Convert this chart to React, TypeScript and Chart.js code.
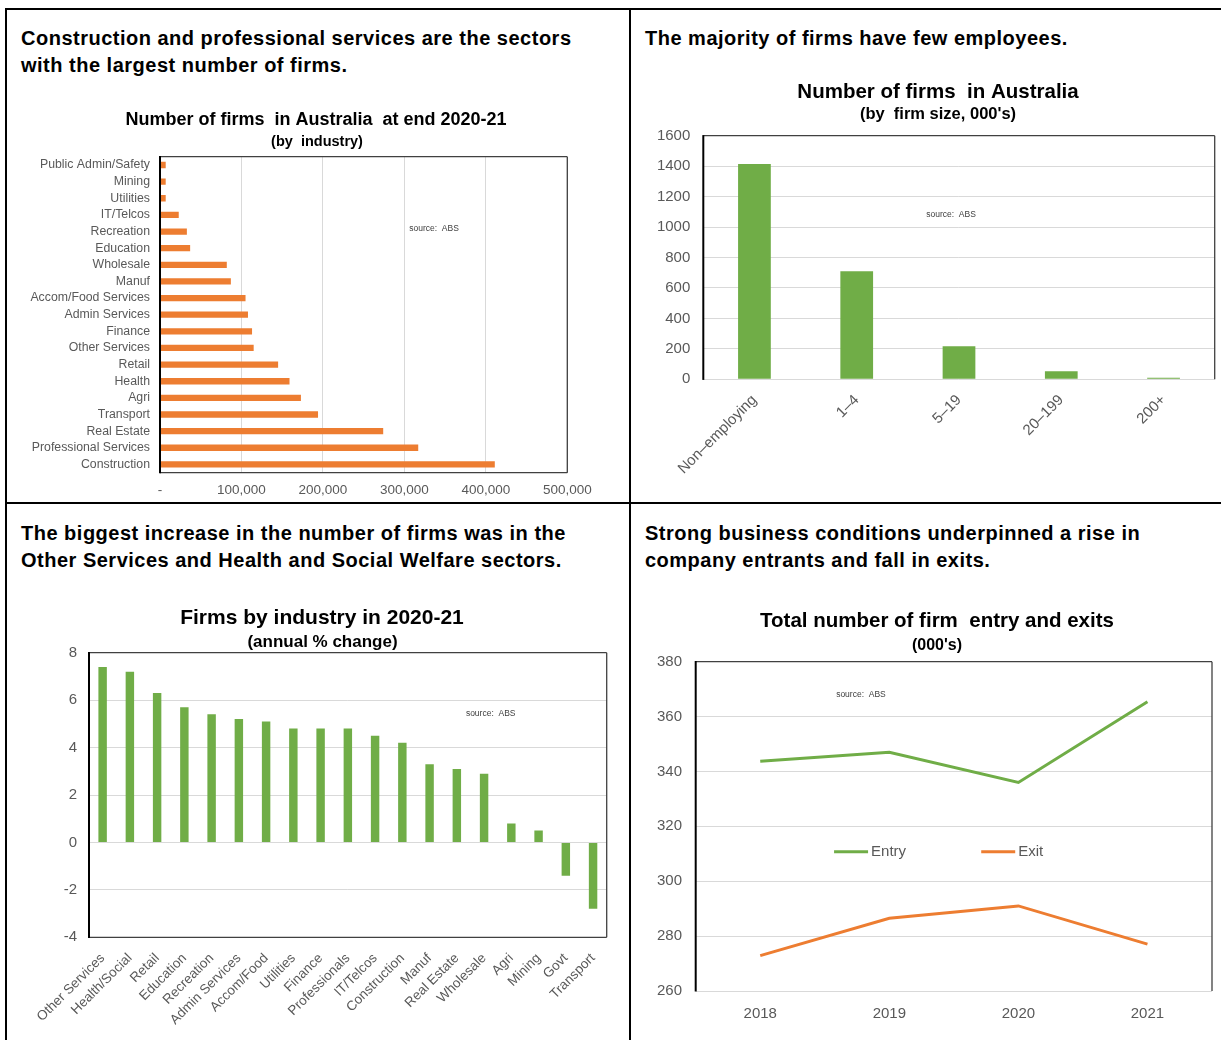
import React, { useEffect, useRef } from "react";
import { Chart, registerables } from "chart.js";

Chart.register(...registerables);

const SANS = '"Liberation Sans", Arial, Helvetica, sans-serif';

const ORANGE = "#ED7D31";
const GREEN = "#70AD47";
const TICK_GREY = "#595959";
const GRID_GREY = "#d9d9d9";
const FRAME_DARK = "#404040";

// Number of firms by industry, end 2020-21
const industryNames = [
  "Public Admin/Safety", "Mining", "Utilities", "IT/Telcos", "Recreation", "Education",
  "Wholesale", "Manuf", "Accom/Food Services", "Admin Services", "Finance", "Other Services",
  "Retail", "Health", "Agri", "Transport", "Real Estate", "Professional Services", "Construction",
];
const industryFirms = [
  7000, 7000, 7000, 23000, 33000, 37000, 82000, 87000, 105000, 108000, 113000, 115000,
  145000, 159000, 173000, 194000, 274000, 317000, 411000,
];
const industryTickLabels = ["-", "100,000", "200,000", "300,000", "400,000", "500,000"];

// Number of firms by firm size (000's)
const sizeBands = ["Non\u2013employing", "1\u20134", "5\u201319", "20\u2013199", "200+"];
const sizeFirms = [1414, 709, 217, 53, 10];

// Annual % change in firms by industry, 2020-21
const changeIndustries = [
  "Other Services", "Health/Social", "Retail", "Education", "Recreation", "Admin Services",
  "Accom/Food", "Utilities", "Finance", "Professionals", "IT/Telcos", "Construction", "Manuf",
  "Real Estate", "Wholesale", "Agri", "Mining", "Govt", "Transport",
];
const changePct = [7.4, 7.2, 6.3, 5.7, 5.4, 5.2, 5.1, 4.8, 4.8, 4.8, 4.5, 4.2, 3.3, 3.1, 2.9, 0.8, 0.5, -1.4, -2.8];

// Firm entries and exits (000's)
const flowYears = ["2018", "2019", "2020", "2021"];
const entryFirms = [343.7, 347.0, 336.0, 365.4];
const exitFirms = [272.9, 286.5, 291.0, 277.1];

const sourceText = "source:  ABS";

type Rect = { left: number; top: number; width: number; height: number };
type Area = { left: number; top: number; right: number; bottom: number };
type Heading = { text: string; size: number; cx: number; cy: number };

// Paddings that put the plot area at a fixed place inside its canvas.
function geometry(canvas: Rect, area: Area, xAxisHeight: number) {
  return {
    layout: {
      padding: {
        left: 0,
        right: canvas.left + canvas.width - area.right,
        top: area.top - canvas.top,
        bottom: canvas.top + canvas.height - area.bottom - xAxisHeight,
      },
    },
    yWidth: area.left - canvas.left,
    xHeight: xAxisHeight,
  };
}

// Title and subtitle, each centred on its own point (page coordinates, shifted by the canvas origin).
const chartHeadings = {
  id: "chartHeadings",
  afterDraw(chart: any, _args: any, opts: any) {
    const { ctx } = chart;
    ctx.save();
    ctx.fillStyle = "#000";
    ctx.textAlign = "center";
    ctx.textBaseline = "middle";
    (opts.lines as Heading[]).forEach((h) => {
      ctx.font = `bold ${h.size}px ${SANS}`;
      ctx.fillText(h.text, h.cx - opts.origin.left, h.cy - opts.origin.top);
    });
    ctx.restore();
  },
};

// Small "source" note placed inside the plot area.
const sourceNote = {
  id: "sourceNote",
  afterDraw(chart: any, _args: any, opts: any) {
    const { ctx, chartArea: a } = chart;
    ctx.save();
    ctx.font = `8.5px ${SANS}`;
    ctx.fillStyle = "#404040";
    ctx.textAlign = "left";
    ctx.textBaseline = "middle";
    ctx.fillText(sourceText, a.left + opts.fx * (a.right - a.left), a.top + opts.fy * (a.bottom - a.top));
    ctx.restore();
  },
};

// Box around the plot area with a heavier left axis.
const plotFrame = {
  id: "plotFrame",
  afterDatasetsDraw(chart: any, _args: any, opts: any) {
    const { ctx, chartArea: a } = chart;
    const seg = (x1: number, y1: number, x2: number, y2: number, color: string | null, w: number) => {
      if (!color) return;
      ctx.beginPath();
      ctx.strokeStyle = color;
      ctx.lineWidth = w;
      ctx.moveTo(x1, y1);
      ctx.lineTo(x2, y2);
      ctx.stroke();
    };
    ctx.save();
    seg(a.left, a.top, a.right, a.top, opts.top, 1.3);
    seg(a.right, a.top, a.right, a.bottom, opts.right, 1.3);
    seg(a.left, a.bottom, a.right, a.bottom, opts.bottom, 1.3);
    seg(a.left, a.top - 0.6, a.left, a.bottom + 0.6, opts.left, 2);
    ctx.restore();
  },
};

// Legend drawn inside the plot, on a given y value.
const inlineLegend = {
  id: "inlineLegend",
  afterDraw(chart: any, _args: any, opts: any) {
    const { ctx, chartArea: a, scales } = chart;
    const y = scales.y.getPixelForValue(opts.value);
    ctx.save();
    ctx.font = `15px ${SANS}`;
    ctx.textAlign = "left";
    ctx.textBaseline = "middle";
    chart.data.datasets.forEach((ds: any, i: number) => {
      const x0 = a.left + opts.fx[i] * (a.right - a.left);
      ctx.beginPath();
      ctx.strokeStyle = ds.borderColor;
      ctx.lineWidth = 3;
      ctx.moveTo(x0, y);
      ctx.lineTo(x0 + opts.swatch, y);
      ctx.stroke();
      ctx.fillStyle = TICK_GREY;
      ctx.fillText(ds.label, x0 + opts.swatch + 3, y);
    });
    ctx.restore();
  },
};

const base = { animation: false, responsive: false, devicePixelRatio: 1, events: [] as string[] };

const C1 = { canvas: { left: 10, top: 100, width: 610, height: 400 }, area: { left: 160, top: 156.7, right: 567.3, bottom: 472.7 } };
const C2 = { canvas: { left: 640, top: 70, width: 581, height: 420 }, area: { left: 703.3, top: 135.7, right: 1214.7, bottom: 379.3 } };
const C3 = { canvas: { left: 10, top: 595, width: 615, height: 445 }, area: { left: 89, top: 652.7, right: 606.7, bottom: 937.3 } };
const C4 = { canvas: { left: 640, top: 595, width: 581, height: 445 }, area: { left: 695.7, top: 661.7, right: 1212, bottom: 991 } };

const hidden = { legend: { display: false }, tooltip: { enabled: false } };
const plainNumber = (v: number) => String(v);

function industryChart() {
  const g = geometry(C1.canvas, C1.area, 24);
  return {
    type: "bar",
    data: {
      labels: industryNames,
      datasets: [{ data: industryFirms, backgroundColor: ORANGE, barPercentage: 0.38, categoryPercentage: 1 }],
    },
    options: {
      ...base,
      indexAxis: "y",
      layout: g.layout,
      plugins: {
        ...hidden,
        chartHeadings: {
          origin: C1.canvas,
          lines: [
            { text: "Number of firms  in Australia  at end 2020-21", size: 18, cx: 316, cy: 120 },
            { text: "(by  industry)", size: 14.5, cx: 317, cy: 142 },
          ],
        },
        sourceNote: { fx: 0.612, fy: 0.229 },
        plotFrame: { top: FRAME_DARK, right: FRAME_DARK, bottom: FRAME_DARK, left: "#000" },
      },
      scales: {
        x: {
          min: 0, max: 500000,
          ticks: {
            stepSize: 100000, padding: 9, color: TICK_GREY, font: { family: SANS, size: 13.5 },
            callback: (v: number) => industryTickLabels[Math.round(v / 100000)],
          },
          grid: { color: GRID_GREY, drawTicks: false },
          border: { display: false },
          afterFit: (s: any) => { s.height = g.xHeight; },
        },
        y: {
          ticks: { padding: 10, color: TICK_GREY, font: { family: SANS, size: 12.3 }, autoSkip: false },
          grid: { display: false, drawTicks: false },
          border: { display: false },
          afterFit: (s: any) => { s.width = g.yWidth; },
        },
      },
    },
    plugins: [chartHeadings, sourceNote, plotFrame],
  };
}

function sizeChart() {
  const g = geometry(C2.canvas, C2.area, 100);
  return {
    type: "bar",
    data: {
      labels: sizeBands,
      datasets: [{ data: sizeFirms, backgroundColor: GREEN, barPercentage: 0.32, categoryPercentage: 1 }],
    },
    options: {
      ...base,
      layout: g.layout,
      plugins: {
        ...hidden,
        chartHeadings: {
          origin: C2.canvas,
          lines: [
            { text: "Number of firms  in Australia", size: 20.5, cx: 938, cy: 92 },
            { text: "(by  firm size, 000's)", size: 16.5, cx: 938, cy: 114 },
          ],
        },
        sourceNote: { fx: 0.436, fy: 0.326 },
        plotFrame: { top: FRAME_DARK, right: FRAME_DARK, bottom: null, left: "#000" },
      },
      scales: {
        x: {
          ticks: { minRotation: 45, maxRotation: 45, padding: 4, color: TICK_GREY, font: { family: SANS, size: 15 } },
          grid: { display: false },
          border: { display: false },
          afterFit: (s: any) => { s.height = g.xHeight; },
        },
        y: {
          min: 0, max: 1600,
          ticks: { stepSize: 200, padding: 13, color: TICK_GREY, font: { family: SANS, size: 15 }, callback: plainNumber },
          grid: { color: GRID_GREY, drawTicks: false },
          border: { display: false },
          afterFit: (s: any) => { s.width = g.yWidth; },
        },
      },
    },
    plugins: [chartHeadings, sourceNote, plotFrame],
  };
}

function changeChart() {
  const g = geometry(C3.canvas, C3.area, 100);
  return {
    type: "bar",
    data: {
      labels: changeIndustries,
      datasets: [{ data: changePct, backgroundColor: GREEN, barPercentage: 0.31, categoryPercentage: 1 }],
    },
    options: {
      ...base,
      layout: g.layout,
      plugins: {
        ...hidden,
        chartHeadings: {
          origin: C3.canvas,
          lines: [
            { text: "Firms by industry in 2020-21", size: 21, cx: 322, cy: 618 },
            { text: "(annual % change)", size: 17, cx: 322.5, cy: 642 },
          ],
        },
        sourceNote: { fx: 0.728, fy: 0.215 },
        plotFrame: { top: FRAME_DARK, right: FRAME_DARK, bottom: FRAME_DARK, left: "#000" },
      },
      scales: {
        x: {
          ticks: { minRotation: 45, maxRotation: 45, padding: 5, autoSkip: false, color: TICK_GREY, font: { family: SANS, size: 13.5 } },
          grid: { display: false },
          border: { display: false },
          afterFit: (s: any) => { s.height = g.xHeight; },
        },
        y: {
          min: -4, max: 8,
          ticks: { stepSize: 2, padding: 12, color: TICK_GREY, font: { family: SANS, size: 15 } },
          grid: { color: GRID_GREY, drawTicks: false },
          border: { display: false },
          afterFit: (s: any) => { s.width = g.yWidth; },
        },
      },
    },
    plugins: [chartHeadings, sourceNote, plotFrame],
  };
}

function flowChart() {
  const g = geometry(C4.canvas, C4.area, 40);
  return {
    type: "line",
    data: {
      labels: flowYears,
      datasets: [
        { label: "Entry", data: entryFirms, borderColor: GREEN, borderWidth: 3, pointRadius: 0, tension: 0 },
        { label: "Exit", data: exitFirms, borderColor: ORANGE, borderWidth: 3, pointRadius: 0, tension: 0 },
      ],
    },
    options: {
      ...base,
      layout: g.layout,
      plugins: {
        ...hidden,
        chartHeadings: {
          origin: C4.canvas,
          lines: [
            { text: "Total number of firm  entry and exits", size: 20.5, cx: 937, cy: 621 },
            { text: "(000's)", size: 16, cx: 937, cy: 646 },
          ],
        },
        sourceNote: { fx: 0.272, fy: 0.101 },
        plotFrame: { top: FRAME_DARK, right: FRAME_DARK, bottom: null, left: "#000" },
        inlineLegend: { value: 310.7, fx: [0.268, 0.553], swatch: 34 },
      },
      scales: {
        x: {
          offset: true,
          ticks: { padding: 6, color: TICK_GREY, font: { family: SANS, size: 15 } },
          grid: { display: false },
          border: { display: false },
          afterFit: (s: any) => { s.height = g.xHeight; },
        },
        y: {
          min: 260, max: 380,
          ticks: { stepSize: 20, padding: 13.7, color: TICK_GREY, font: { family: SANS, size: 15 } },
          grid: { color: GRID_GREY, drawTicks: false },
          border: { display: false },
          afterFit: (s: any) => { s.width = g.yWidth; },
        },
      },
    },
    plugins: [chartHeadings, sourceNote, plotFrame, inlineLegend],
  };
}

function ChartCanvas({ rect, make }: { rect: Rect; make: () => any }) {
  const ref = useRef<HTMLCanvasElement>(null);
  useEffect(() => {
    const chart = new Chart(ref.current as HTMLCanvasElement, make());
    return () => chart.destroy();
  }, []);
  return (
    <canvas
      ref={ref}
      width={rect.width}
      height={rect.height}
      style={{ position: "absolute", left: rect.left, top: rect.top, width: rect.width, height: rect.height }}
    />
  );
}

const headingStyle: React.CSSProperties = {
  position: "absolute",
  fontFamily: SANS,
  fontWeight: "bold",
  fontSize: 20,
  letterSpacing: "0.5px",
  lineHeight: "27.5px",
  color: "#000",
  margin: 0,
  whiteSpace: "nowrap",
};

function Rule({ left, top, width, height }: Rect) {
  return <div style={{ position: "absolute", left, top, width, height, background: "#000" }} />;
}

export default function App() {
  return (
    <div style={{ position: "absolute", left: 0, top: 0, width: 1221, height: 1040, overflow: "hidden", background: "#fff" }}>
      <Rule left={5} top={8} width={1216} height={2} />
      <Rule left={5} top={8} width={2} height={1032} />
      <Rule left={629} top={8} width={2} height={1032} />
      <Rule left={5} top={502} width={1216} height={2} />

      <div style={{ ...headingStyle, left: 21, top: 24.5 }}>
        Construction and professional services are the sectors<br />with the largest number of firms.
      </div>
      <div style={{ ...headingStyle, left: 645, top: 24.5 }}>The majority of firms have few employees.</div>
      <div style={{ ...headingStyle, left: 21, top: 519.5 }}>
        The biggest increase in the number of firms was in the<br />Other Services and Health and Social Welfare sectors.
      </div>
      <div style={{ ...headingStyle, left: 645, top: 519.5 }}>
        Strong business conditions underpinned a rise in<br />company entrants and fall in exits.
      </div>

      <ChartCanvas rect={C1.canvas} make={industryChart} />
      <ChartCanvas rect={C2.canvas} make={sizeChart} />
      <ChartCanvas rect={C3.canvas} make={changeChart} />
      <ChartCanvas rect={C4.canvas} make={flowChart} />
    </div>
  );
}
